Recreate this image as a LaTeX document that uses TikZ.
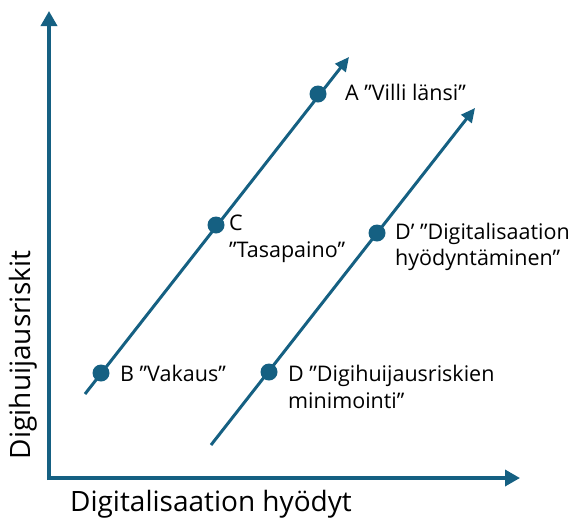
\documentclass[tikz,border=0pt]{standalone}
\usepackage{fontspec}
\setmainfont{Open Sans}
\usetikzlibrary{arrows.meta}
\definecolor{riskblue}{RGB}{21,96,130}
\begin{document}
\begin{tikzpicture}[x=1pt,y=-1pt]

    \tikzset{
      axis/.style={
        riskblue,
        line width=3.5pt,
        -{Triangle[length=15pt,width=16pt]},
      },
      trend/.style={
        riskblue,
        line width=3pt,
        -{Triangle[length=14pt,width=13pt]},
      },
      dot/.style={
        circle,
        fill=riskblue,
        inner sep=0pt,
        minimum size=17pt,
      },
      lbl/.style={
        anchor=west,
        inner sep=0pt,
        align=left,
        font=\fontsize{21.5}{26.5}\selectfont,
      },
    }
    \useasboundingbox (0,0) rectangle (575,520);
	\coordinate (origin) at (49,478);
	\coordinate (ytip) at (49,11);
	\coordinate (xtip) at (520,478);
	\draw[axis] (49,480) -- (ytip);
	\draw[axis] (origin) -- (xtip);
	\node[anchor=center,font=\fontsize{28}{32}\selectfont] (xlabel) at (211,504) {Digitalisaation hyödyt};
	\node[anchor=center,rotate=90,font=\fontsize{28}{32}\selectfont] (ylabel) at (23,355) {Digihuijausriskit};
	\coordinate (s1) at (85,394);
	\coordinate (e1) at (349,57);
	\coordinate (s2) at (211,445);
	\coordinate (e2) at (475,108);
	\draw[trend] (s1) -- (e1);
	\draw[trend] (s2) -- (e2);
	\node[dot] (B) at (101,373) {};
	\node[dot] (C) at (216,225) {};
	\node[dot] (A) at (318,94) {};
	\node[dot] (D) at (269,372) {};
	\node[dot] (Dp) at (377,233) {};
	\node[lbl] (Blbl) at (120,373) {B ”Vakaus”};
	\node[lbl] (Clbl) at (229,239) {C\\”Tasapaino”};
	\node[lbl] (Albl) at (345,92) {A ”Villi länsi”};
	\node[lbl] (Dplbl) at (395,247) {D’ ”Digitalisaation\\hyödyntäminen”};
	\node[lbl] (Dlbl) at (288,387) {D ”Digihuijausriskien\\minimointi”};

\end{tikzpicture}
\end{document}
